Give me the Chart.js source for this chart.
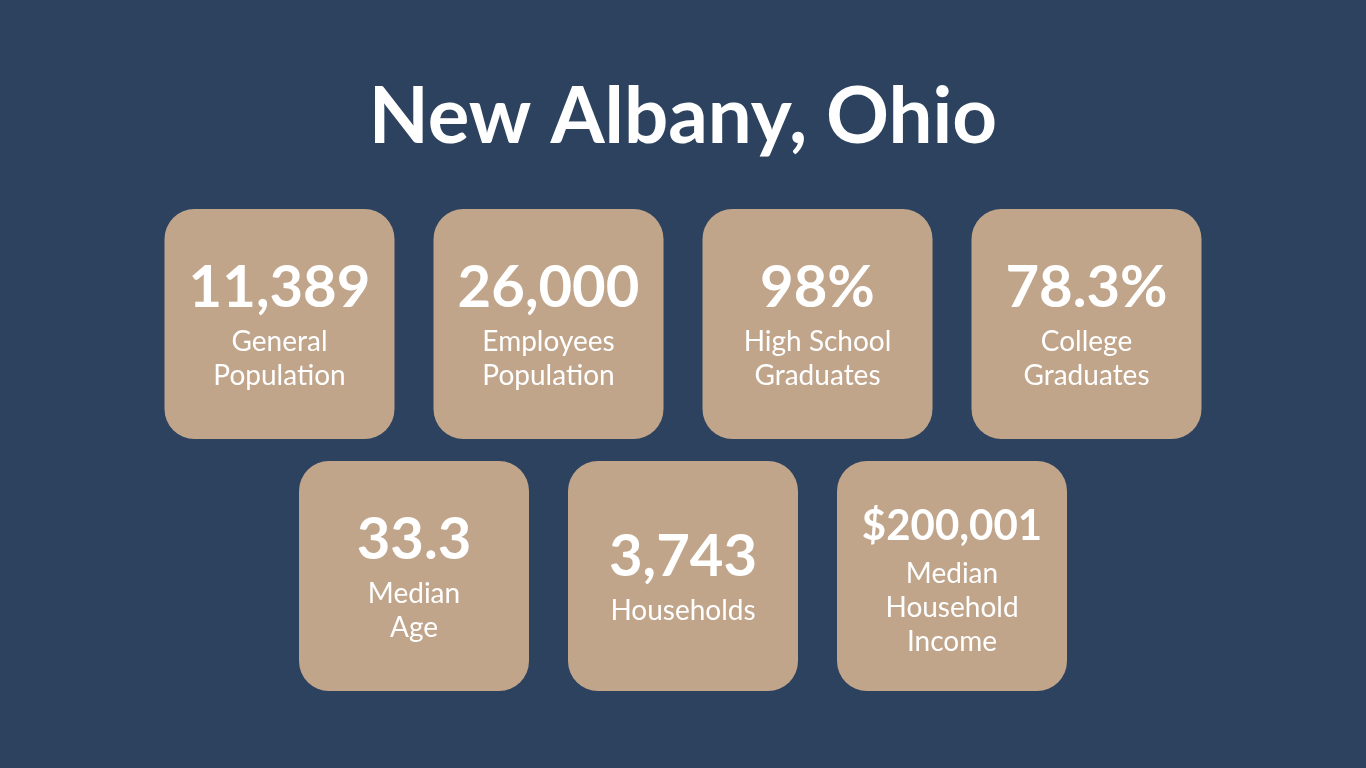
<!DOCTYPE html>
<html>
<head>
    <title>New Albany, Ohio</title>
    <script src="https://cdn.jsdelivr.net/npm/chart.js@4"></script>
    <style>
        body { margin: 0; background: #2c425f; overflow: hidden; }
        canvas { display: block; }
    </style>
</head>
<body>
    <canvas id="stats" width="1366" height="768"></canvas>
    <script>
        // Figures shown on the tiles
        const chartTitle = "New Albany, Ohio";
        const values = ["11,389", "26,000", "98%", "78.3%", "33.3", "3,743", "$200,001"];
        const labels = [
            ["General", "Population"],
            ["Employees", "Population"],
            ["High School", "Graduates"],
            ["College", "Graduates"],
            ["Median", "Age"],
            ["Households"],
            ["Median", "Household", "Income"]
        ];
        const rowSizes = [4, 3];

        // tile slot positions (column offset from centre, row index)
        const slots = [];
        let k = 0;
        rowSizes.forEach(function (n, row) {
            for (let c = 0; c < n; c++) {
                slots.push({ x: c - (n - 1) / 2, y: row, i: k++ });
            }
        });

        function roundRect(ctx, x, y, w, h, r) {
            ctx.beginPath();
            ctx.moveTo(x + r, y);
            ctx.arcTo(x + w, y, x + w, y + h, r);
            ctx.arcTo(x + w, y + h, x, y + h, r);
            ctx.arcTo(x, y + h, x, y, r);
            ctx.arcTo(x, y, x + w, y, r);
            ctx.closePath();
        }

        const tilesPlugin = {
            id: "tiles",
            beforeDraw: function (chart) {
                const ctx = chart.ctx;
                ctx.save();
                ctx.fillStyle = "#2c425f";
                ctx.fillRect(0, 0, chart.width, chart.height);
                ctx.fillStyle = "#ffffff";
                ctx.font = "bold 78px Lato";
                ctx.textAlign = "center";
                ctx.textBaseline = "middle";
                ctx.fillText(chartTitle, chart.width / 2, 118);
                ctx.restore();
            },
            afterDatasetsDraw: function (chart) {
                const ctx = chart.ctx;
                const meta = chart.getDatasetMeta(0);
                ctx.save();
                meta.data.forEach(function (pt, i) {
                    const cx = pt.x, cy = pt.y;
                    ctx.fillStyle = "#c0a58b";
                    roundRect(ctx, cx - 115, cy - 115, 230, 230, 30);
                    ctx.fill();

                    const lines = labels[i];
                    const small = values[i].length > 6;
                    const numGap = small ? 48 : 53;
                    const span = numGap + 34 * (lines.length - 1);
                    const top = cy + 8 - span / 2;
                    ctx.fillStyle = "#ffffff";
                    ctx.textAlign = "center";
                    ctx.textBaseline = "middle";
                    ctx.font = "bold " + (small ? 42 : 58) + "px Lato";
                    ctx.fillText(values[i], cx, top);
                    ctx.font = "28px Lato";
                    lines.forEach(function (line, j) {
                        ctx.fillText(line, cx, top + numGap + 34 * j);
                    });
                });
                ctx.restore();
            }
        };

        new Chart(document.getElementById("stats"), {
            type: "scatter",
            data: {
                datasets: [{
                    data: slots,
                    pointRadius: 0,
                    pointHoverRadius: 0
                }]
            },
            options: {
                responsive: false,
                animation: false,
                layout: { padding: 0 },
                plugins: { legend: { display: false }, tooltip: { enabled: false } },
                scales: {
                    x: { display: false, min: -683 / 269, max: 683 / 269 },
                    y: { display: false, reverse: true, min: -324 / 252, max: (768 - 324) / 252 }
                }
            },
            plugins: [tilesPlugin]
        });
    </script>
</body>
</html>
